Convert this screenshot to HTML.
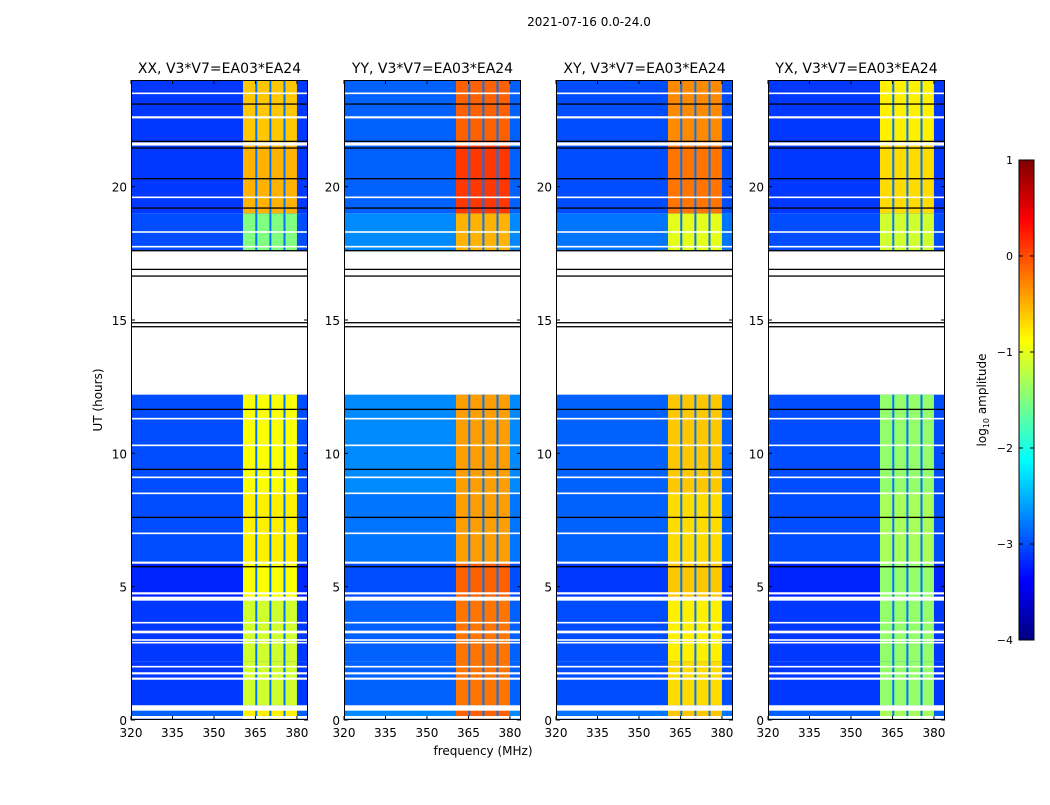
<!DOCTYPE html>
<html><head><meta charset="utf-8"><style>
body{margin:0;background:#fff;}
svg text{font-family:"DejaVu Sans","Liberation Sans",sans-serif;fill:#000;}
</style></head><body>
<svg id="chart" width="1050" height="800" viewBox="0 0 1050 800" xmlns="http://www.w3.org/2000/svg">
<rect width="1050" height="800" fill="#fff"/>
<text x="589" y="26" font-size="12" text-anchor="middle">2021-07-16 0.0-24.0</text>
<text x="483" y="755" font-size="12" text-anchor="middle">frequency (MHz)</text>
<text transform="translate(102,400) rotate(-90)" font-size="12" text-anchor="middle">UT (hours)</text>
<g id="panels"></g>
<g id="cbar"></g>
</svg>
<script>
// ---- data ----
const panelTitles = ["XX, V3*V7=EA03*EA24","YY, V3*V7=EA03*EA24","XY, V3*V7=EA03*EA24","YX, V3*V7=EA03*EA24"];
const xTicks = [320,335,350,365,380];
const yTicks = [0,5,10,15,20];
const cbTicks = [1,0,-1,-2,-3,-4];
// time segments (hours) with data
const segStart = [0, 0.55, 2.2, 4.6, 5.9, 8.5, 17.6, 19.0, 21.6];
const segEnd   = [0.55, 2.2, 4.6, 5.9, 8.5, 12.2, 19.0, 21.6, 24];
// RFI band level per panel per segment (log10 amplitude)
const bandXX = [-0.8,-1.1,-1.1,-0.9,-0.8,-0.9,-1.5,-0.5,-0.6];
const bandYY = [-0.1,-0.2,-0.2,-0.1,-0.4,-0.4,-0.5, 0.1,-0.1];
const bandXY = [-0.6,-0.7,-0.8,-0.6,-0.7,-0.6,-1.0,-0.2,-0.3];
const bandYX = [-1.3,-1.4,-1.4,-1.4,-1.3,-1.4,-1.1,-0.7,-0.8];
const bandLevels = [bandXX, bandYY, bandXY, bandYX];
// background level per panel per segment
const bgXX = [-2.9,-3.1,-3.1,-3.2,-3.0,-3.0,-3.0,-3.1,-3.1];
const bgYY = [-2.7,-2.9,-2.9,-3.0,-2.8,-2.7,-2.7,-2.9,-2.9];
const bgXY = [-2.8,-3.0,-3.0,-3.1,-2.9,-2.9,-2.8,-3.0,-3.0];
const bgYX = [-2.9,-3.1,-3.1,-3.2,-3.0,-3.0,-3.0,-3.1,-3.1];
const bgLevels = [bgXX, bgYY, bgXY, bgYX];
// RFI band frequency edges and inner dropout channels (MHz)
const bandLo = 360.5, bandHi = 380.0;
const stripeFreqs = [365.3, 370.4, 375.5];
const stripeLevel = -2.8;
// flagged (white) times and black row boundaries
const whiteRows = [0.1,0.45,1.55,1.75,2.0,2.9,3.0,3.3,3.65,4.55,4.75,5.9,7.0,8.5,9.1,10.3,11.3,17.75,18.3,19.6,21.6,22.6,23.5];
const whiteWidth = [0.1,0.2,0.08,0.08,0.06,0.06,0.06,0.1,0.06,0.15,0.08,0.08,0.06,0.06,0.06,0.06,0.06,0.06,0.06,0.06,0.12,0.08,0.06];
const blackRows = [5.75,7.6,9.4,11.65,14.75,14.9,16.65,16.9,17.6,19.2,20.3,21.45,21.7,23.1];

// ---- geometry ----
const panelX = [131,344,556,768], pW = 177, pTop = 80, pBot = 720;
const fMin = 320, fMax = 384, tMin = 0, tMax = 24;
const NS = "http://www.w3.org/2000/svg";
function xs(p,f){return panelX[p] + (f-fMin)/(fMax-fMin)*pW;}
function ys(t){return pBot - (t-tMin)/(tMax-tMin)*(pBot-pTop);}
function clip(v){return Math.max(0,Math.min(1,v));}
function jet(v){const t=clip((v+4)/5);
  const r=clip(1.5-Math.abs(4*t-3)),g=clip(1.5-Math.abs(4*t-2)),b=clip(1.5-Math.abs(4*t-1));
  return `rgb(${Math.round(r*255)},${Math.round(g*255)},${Math.round(b*255)})`;}
function mk(tag,attrs,parent){const e=document.createElementNS(NS,tag);for(const k in attrs)e.setAttribute(k,attrs[k]);parent.appendChild(e);return e;}

const root = document.getElementById('panels');
for(let p=0;p<4;p++){
  const g = mk('g',{},root);
  
  
  for(let s=0;s<segStart.length;s++){
    const y1=ys(segEnd[s]), y2=ys(segStart[s]);
    const bg = mk('rect',{x:panelX[p],y:y1,width:pW,height:y2-y1,fill:jet(bgLevels[p][s])},g);
    
    
    const bx1=xs(p,bandLo), bx2=xs(p,bandHi);
    const band = mk('rect',{x:bx1,y:y1,width:bx2-bx1,height:y2-y1,fill:jet(bandLevels[p][s])},g);
    
    
    for(const f of stripeFreqs){
      const st = mk('rect',{x:xs(p,f)-1,y:y1,width:2,height:y2-y1,fill:jet(stripeLevel)},g);
      
      
    }
  }
  whiteRows.forEach((t,i)=>{
    const w = mk('rect',{x:panelX[p],y:ys(t+whiteWidth[i]/2),width:pW,height:Math.max(1.5,whiteWidth[i]/24*640),fill:'#fff'},g);
    
    
  });
  blackRows.forEach(t=>{
    const b = mk('rect',{x:panelX[p],y:ys(t)-0.6,width:pW,height:1.3,fill:'#000'},g);
    
    
  });
  const fr = mk('rect',{x:panelX[p]+0.5,y:pTop+0.5,width:pW-1,height:pBot-pTop-1,fill:'none',stroke:'#000','stroke-width':1},g);
  
  
  const tt = mk('text',{x:panelX[p]+pW/2,y:73,'font-size':14,'text-anchor':'middle'},g);
  tt.textContent = panelTitles[p];
  
  
  xTicks.forEach(f=>{
    const x=xs(p,f);
    mk('line',{x1:x,x2:x,y1:pBot,y2:pBot-4,stroke:'#000'},g);
    mk('line',{x1:x,x2:x,y1:pTop,y2:pTop+4,stroke:'#000'},g);
    const l = mk('text',{x:x,y:737,'font-size':12,'text-anchor':'middle'},g);
    l.textContent=f;
    
    
  });
  yTicks.forEach(t=>{
    const y=ys(t);
    mk('line',{x1:panelX[p],x2:panelX[p]+4,y1:y,y2:y,stroke:'#000'},g);
    mk('line',{x1:panelX[p]+pW,x2:panelX[p]+pW-4,y1:y,y2:y,stroke:'#000'},g);
    const l = mk('text',{x:panelX[p]-4,y:y+5,'font-size':12,'text-anchor':'end'},g);
    l.textContent=t;
    
    
  });
}
// colorbar
const cb = document.getElementById('cbar');
const cbX=1019, cbW=15, cbTop=160, cbBot=640, cMin=-4, cMax=1;
function cy(v){return cbBot-(v-cMin)/(cMax-cMin)*(cbBot-cbTop);}
for(let i=0;i<120;i++){
  const v0=cMin+i*(cMax-cMin)/120, v1=cMin+(i+1)*(cMax-cMin)/120;
  const r = mk('rect',{x:cbX,y:cy(v1),width:cbW,height:cy(v0)-cy(v1)+0.5,fill:jet((v0+v1)/2)},cb);
  
  
}
const cf = mk('rect',{x:cbX,y:cbTop,width:cbW,height:cbBot-cbTop,fill:'none',stroke:'#000'},cb);


cbTicks.forEach(v=>{
  const y=cy(v);
  mk('line',{x1:cbX,x2:cbX+4,y1:y,y2:y,stroke:'#000'},cb);
  mk('line',{x1:cbX+cbW,x2:cbX+cbW-4,y1:y,y2:y,stroke:'#000'},cb);
  const l = mk('text',{x:1013,y:y+4,'font-size':11,'text-anchor':'end'},cb);
  l.textContent = v<0 ? '\u2212'+(-v) : String(v);
  
  
});
const ct = mk('text',{transform:'translate(986,400) rotate(-90)','font-size':12,'text-anchor':'middle'},cb);
ct.innerHTML = 'log<tspan font-size="8" dy="3">10</tspan><tspan dy="-3"> amplitude</tspan>';


</script>
</body></html>
